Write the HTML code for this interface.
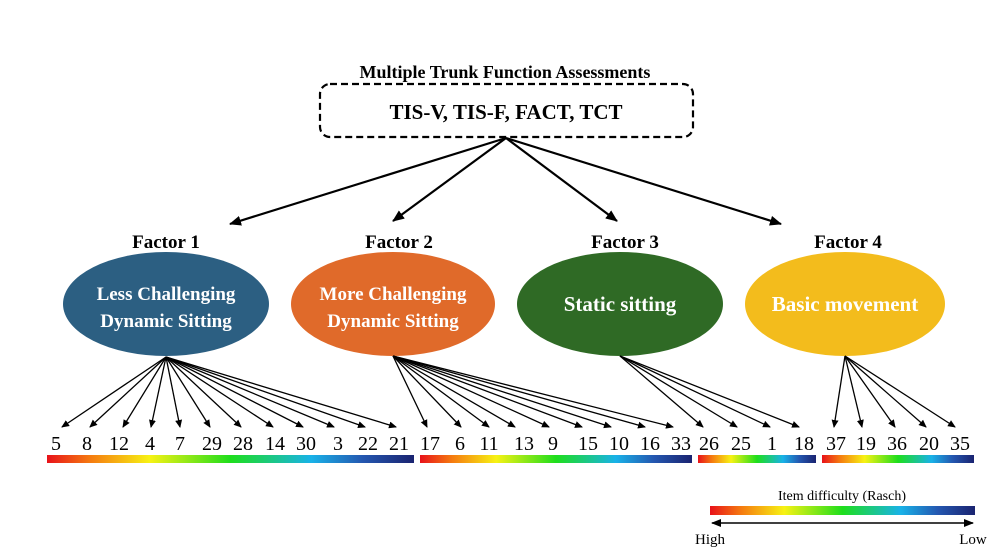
<!DOCTYPE html>
<html><head><meta charset="utf-8"><style>
html,body{margin:0;padding:0;background:#fff;}
svg{display:block;font-family:"Liberation Serif",serif;}
</style></head><body>
<svg width="1000" height="560" viewBox="0 0 1000 560" xmlns="http://www.w3.org/2000/svg">
<defs>
<marker id="a" markerWidth="8" markerHeight="8" refX="7" refY="4" orient="auto" markerUnits="userSpaceOnUse"><path d="M0,0.5 L8,4 L0,7.5 z" fill="#000"/></marker>
<marker id="s" markerWidth="12" markerHeight="10" refX="11" refY="5" orient="auto" markerUnits="userSpaceOnUse"><path d="M0,0 L12,5 L0,10 z" fill="#000"/></marker>
<marker id="s2" markerWidth="10" markerHeight="8" refX="9" refY="4" orient="auto-start-reverse" markerUnits="userSpaceOnUse"><path d="M0,0 L10,4 L0,8 z" fill="#000"/></marker>
<linearGradient id="g" x1="0" x2="1" y1="0" y2="0">
<stop offset="0" stop-color="#e8121a"/><stop offset="0.12" stop-color="#f57c10"/><stop offset="0.28" stop-color="#f7f214"/><stop offset="0.5" stop-color="#1ede1c"/><stop offset="0.72" stop-color="#19b2e8"/><stop offset="0.86" stop-color="#2457b0"/><stop offset="1" stop-color="#1a2370"/>
</linearGradient>
</defs>
<text x="505" y="78" text-anchor="middle" font-size="18" font-weight="bold">Multiple Trunk Function Assessments</text>
<rect x="320" y="84" width="373" height="53" rx="10" fill="none" stroke="#000" stroke-width="2.2" stroke-dasharray="7,4"/>
<text x="506" y="119" text-anchor="middle" font-size="21" font-weight="bold">TIS-V, TIS-F, FACT, TCT</text>
<g stroke="#000" stroke-width="2.2" marker-end="url(#s)">
<line x1="506" y1="138" x2="230" y2="224"/>
<line x1="506" y1="138" x2="393" y2="221"/>
<line x1="506" y1="138" x2="617" y2="221"/>
<line x1="506" y1="138" x2="781" y2="224"/>
</g>
<g font-size="19" font-weight="bold" text-anchor="middle">
<text x="166" y="248">Factor 1</text><text x="399" y="248">Factor 2</text><text x="625" y="248">Factor 3</text><text x="848" y="248">Factor 4</text>
</g>
<ellipse cx="166" cy="304" rx="103" ry="52" fill="#2c5f82"/>
<ellipse cx="393" cy="304" rx="102" ry="52" fill="#e06a2a"/>
<ellipse cx="620" cy="304" rx="103" ry="52" fill="#2f6a25"/>
<ellipse cx="845" cy="304" rx="100" ry="52" fill="#f3bc1c"/>
<g fill="#fff" font-size="19" font-weight="bold" text-anchor="middle">
<text x="166" y="300">Less Challenging</text><text x="166" y="327">Dynamic Sitting</text>
<text x="393" y="300">More Challenging</text><text x="393" y="327">Dynamic Sitting</text>
<text x="620" y="311" font-size="21">Static sitting</text>
<text x="845" y="311" font-size="21">Basic movement</text>
</g>
<g stroke="#000" stroke-width="1.3" marker-end="url(#a)">
<line x1="166" y1="357" x2="62" y2="427"/><line x1="166" y1="357" x2="90" y2="427"/><line x1="166" y1="357" x2="123" y2="427"/><line x1="166" y1="357" x2="151" y2="427"/><line x1="166" y1="357" x2="180" y2="427"/><line x1="166" y1="357" x2="210" y2="427"/><line x1="166" y1="357" x2="241" y2="427"/><line x1="166" y1="357" x2="273" y2="427"/><line x1="166" y1="357" x2="303" y2="427"/><line x1="166" y1="357" x2="334" y2="427"/><line x1="166" y1="357" x2="365" y2="427"/><line x1="166" y1="357" x2="396" y2="427"/>
<line x1="393" y1="356" x2="427" y2="427"/><line x1="393" y1="356" x2="461" y2="427"/><line x1="393" y1="356" x2="489" y2="427"/><line x1="393" y1="356" x2="515" y2="427"/><line x1="393" y1="356" x2="549" y2="427"/><line x1="393" y1="356" x2="582" y2="427"/><line x1="393" y1="356" x2="611" y2="427"/><line x1="393" y1="356" x2="645" y2="427"/><line x1="393" y1="356" x2="673" y2="427"/>
<line x1="620" y1="356" x2="703" y2="427"/><line x1="620" y1="356" x2="737" y2="427"/><line x1="620" y1="356" x2="770" y2="427"/><line x1="620" y1="356" x2="799" y2="427"/>
<line x1="845" y1="356" x2="834" y2="427"/><line x1="845" y1="356" x2="862" y2="427"/><line x1="845" y1="356" x2="895" y2="427"/><line x1="845" y1="356" x2="926" y2="427"/><line x1="845" y1="356" x2="955" y2="427"/>
</g>
<g font-size="20" text-anchor="middle">
<text x="56" y="450">5</text><text x="87" y="450">8</text><text x="119" y="450">12</text><text x="150" y="450">4</text><text x="180" y="450">7</text><text x="212" y="450">29</text><text x="243" y="450">28</text><text x="275" y="450">14</text><text x="306" y="450">30</text><text x="338" y="450">3</text><text x="368" y="450">22</text><text x="399" y="450">21</text>
<text x="430" y="450">17</text><text x="460" y="450">6</text><text x="489" y="450">11</text><text x="524" y="450">13</text><text x="553" y="450">9</text><text x="588" y="450">15</text><text x="619" y="450">10</text><text x="650" y="450">16</text><text x="681" y="450">33</text>
<text x="709" y="450">26</text><text x="741" y="450">25</text><text x="772" y="450">1</text><text x="804" y="450">18</text>
<text x="836" y="450">37</text><text x="866" y="450">19</text><text x="897" y="450">36</text><text x="929" y="450">20</text><text x="960" y="450">35</text>
</g>
<rect x="47" y="455" width="367" height="8" fill="url(#g)"/>
<rect x="420" y="455" width="272" height="8" fill="url(#g)"/>
<rect x="698" y="455" width="118" height="8" fill="url(#g)"/>
<rect x="822" y="455" width="152" height="8" fill="url(#g)"/>
<text x="842" y="500" text-anchor="middle" font-size="14">Item difficulty (Rasch)</text>
<rect x="710" y="506" width="265" height="9" fill="url(#g)"/>
<line x1="712" y1="523" x2="973" y2="523" stroke="#000" stroke-width="1.5" marker-start="url(#s2)" marker-end="url(#s2)"/>
<text x="710" y="544" text-anchor="middle" font-size="15">High</text>
<text x="973" y="544" text-anchor="middle" font-size="15">Low</text>
</svg>
</body></html>
